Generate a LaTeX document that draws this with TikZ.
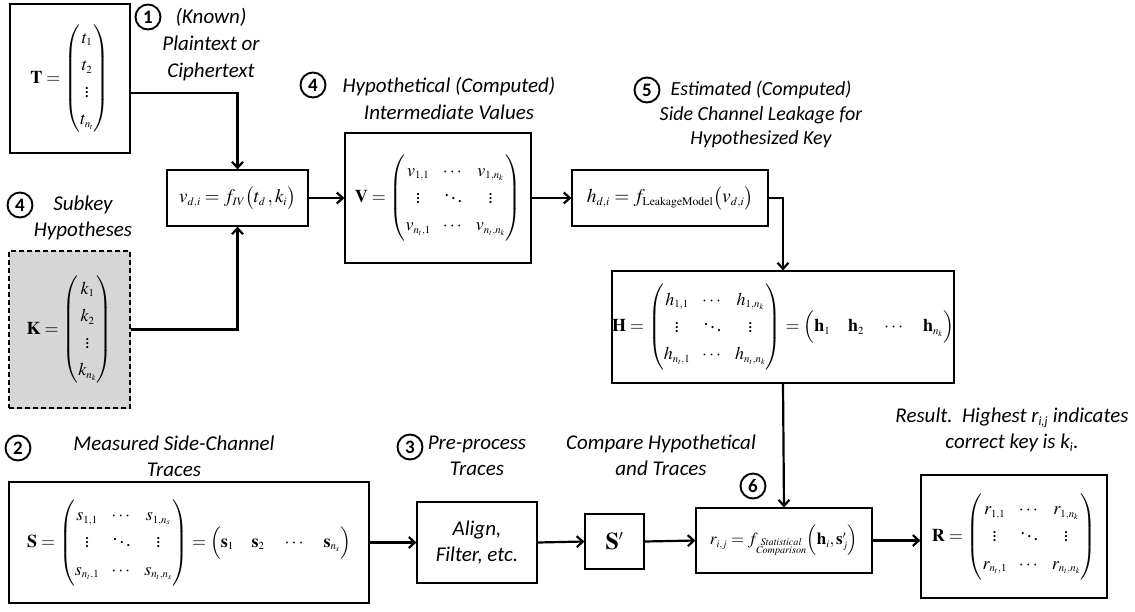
\documentclass[tikz,border=0pt]{standalone}
\usepackage{amsmath}
\usepackage{mathptmx}
\usepackage[no-math]{fontspec}
\setmainfont{Carlito}
\usetikzlibrary{arrows.meta,shadows}
\renewcommand\defaultscriptratio{.6}
\renewcommand\defaultscriptscriptratio{.45}
\newcommand\lblfont{\fontsize{21}{26}\selectfont\itshape}
\newcommand\numfont{\fontsize{19}{20}\selectfont\bfseries}
\newcommand\mfont{\fontsize{18}{21}\selectfont}
\newcommand\mtx{\renewcommand{\arraystretch}{1.3}\setlength{\arraycolsep}{6pt}}
\begin{document}
\begin{tikzpicture}[x=1pt,y=-1pt,
  box/.style={draw, line width=1.2pt, fill=white, inner sep=0pt, align=center, font=\mfont,
    drop shadow={shadow xshift=1.4pt,shadow yshift=-1.4pt,fill=black!45,opacity=0.5}},
  keybox/.style={box, fill=black!16, dash pattern=on 5pt off 3pt},
  lbl/.style={font=\lblfont, align=center, inner sep=0pt},
  num/.style={draw, circle, line width=1.9pt, minimum size=25pt, inner sep=0pt, font=\numfont},
  conn/.style={line width=2.2pt, -{Straight Barb[length=6pt,width=11pt]}}
]
\useasboundingbox (0,0) rectangle (1135,611);

% boxes
\node[box, minimum width=120pt, minimum height=149pt] (T) at (70,78.5)
  {$\mathbf{T}=\mtx\begin{pmatrix} t_1\\ t_2\\ \vdots\\ t_{n_t}\end{pmatrix}$};
\node[box, minimum width=141pt, minimum height=56pt, font=\fontsize{19}{24}\selectfont] (fIV) at (237.5,198)
  {$v_{d,i}=f_{IV}\bigl(t_d\,,k_i\bigr)$};
\node[keybox, minimum width=121pt, minimum height=157pt] (K) at (69.5,329.5)
  {$\mathbf{K}=\mtx\begin{pmatrix} k_1\\ k_2\\ \vdots\\ k_{n_k}\end{pmatrix}$};
\node[box, minimum width=186pt, minimum height=130pt] (V) at (438,198)
  {$\mathbf{V}=\mtx\begin{pmatrix} v_{1,1} & \cdots & v_{1,n_k}\\ \vdots & \ddots & \vdots\\ v_{n_t,1} & \cdots & v_{n_t,n_k}\end{pmatrix}$};
\node[box, minimum width=196pt, minimum height=56pt, font=\fontsize{19.5}{24}\selectfont] (h) at (670,198)
  {$h_{d,i}=f_{\mathrm{LeakageModel}}\bigl(v_{d,i}\bigr)$};
\node[box, minimum width=342pt, minimum height=112pt] (H) at (783,327)
  {$\mathbf{H}=\mtx\begin{pmatrix} h_{1,1} & \cdots & h_{1,n_k}\\ \vdots & \ddots & \vdots\\ h_{n_t,1} & \cdots & h_{n_t,n_k}\end{pmatrix}=\Bigl(\mathbf{h}_1\quad \mathbf{h}_2\quad \cdots\quad \mathbf{h}_{n_k}\Bigr)$};
\node[box, minimum width=360pt, minimum height=121pt] (S) at (189,542.5)
  {$\mathbf{S}=\mtx\begin{pmatrix} s_{1,1} & \cdots & s_{1,n_s}\\ \vdots & \ddots & \vdots\\ s_{n_t,1} & \cdots & s_{n_t,n_s}\end{pmatrix}=\Bigl(\mathbf{s}_1\quad \mathbf{s}_2\quad \cdots\quad \mathbf{s}_{n_s}\Bigr)$};
\node[box, minimum width=120pt, minimum height=81pt, font=\lblfont] (Align) at (477,542.5)
  {Align,\\Filter, etc.};
\node[box, minimum width=59pt, minimum height=55pt, font=\fontsize{24}{26}\selectfont] (Sp) at (614.5,541.5)
  {$\mathbf{S}'$};
\node[box, minimum width=176pt, minimum height=65pt, font=\fontsize{17}{21}\selectfont] (r) at (784,540.5)
  {$r_{i,j}=f_{\substack{\mathit{Statistical}\\ \mathit{Comparison}}}\Bigl(\mathbf{h}_i,\mathbf{s}'_j\Bigr)$};
\node[box, minimum width=186pt, minimum height=123pt] (R) at (1014,536.5)
  {$\mathbf{R}=\mtx\begin{pmatrix} r_{1,1} & \cdots & r_{1,n_k}\\ \vdots & \ddots & \vdots\\ r_{n_t,1} & \cdots & r_{n_t,n_k}\end{pmatrix}$};

% numbered circles
\node[num] (c1) at (148,17) {1};
\node[num] (c4a) at (20,205) {4};
\node[num] (c4b) at (313,85) {4};
\node[num] (c5) at (647,90) {5};
\node[num] (c2) at (18,448) {2};
\node[num] (c3) at (410,447) {3};
\node[num] (c6) at (753,486) {6};

% labels
\node[lbl, font=\fontsize{21}{27}\selectfont\itshape] (l1) at (211,44.5) {(Known)\\Plaintext or\\Ciphertext};
\node[lbl] (l4a) at (83,217.5) {Subkey\\Hypotheses};
\node[lbl, font=\fontsize{21}{27}\selectfont\itshape] (l4b) at (449,98.5) {Hypothetical (Computed)\\Intermediate Values};
\node[lbl, font=\fontsize{20}{24.5}\selectfont\itshape] (l5) at (761,114.5) {Estimated (Computed)\\Side Channel Leakage for\\Hypothesized Key};
\node[lbl] (l2) at (174,456) {Measured Side-Channel\\Traces};
\node[lbl] (l3) at (477,455.5) {Pre-process\\Traces};
\node[lbl] (l6) at (661,455.5) {Compare Hypothetical\\and Traces};
\node[lbl] (lR) at (1012,430) {Result.\ \ Highest r$_{\textit{i,j}}$ indicates\\correct key is k$_{\textit{i}}$.};

% connectors
\draw[conn] ([yshift=-14.5pt]T.east) -| (fIV.north);
\draw[conn] (K.east) -| (fIV.south);
\draw[conn] (fIV.east) -- (V.west);
\draw[conn] (V.east) -- (h.west);
\draw[conn] (h.east) -| (H.north);
\draw[conn] (H.south) -- (r.north);
\draw[conn] (S.east) -- (Align.west);
\draw[conn] (Align.east) -- (Sp.west);
\draw[conn] (Sp.east) -- (r.west);
\draw[conn] (r.east) -- (r.east -| R.west);
\end{tikzpicture}
\end{document}
